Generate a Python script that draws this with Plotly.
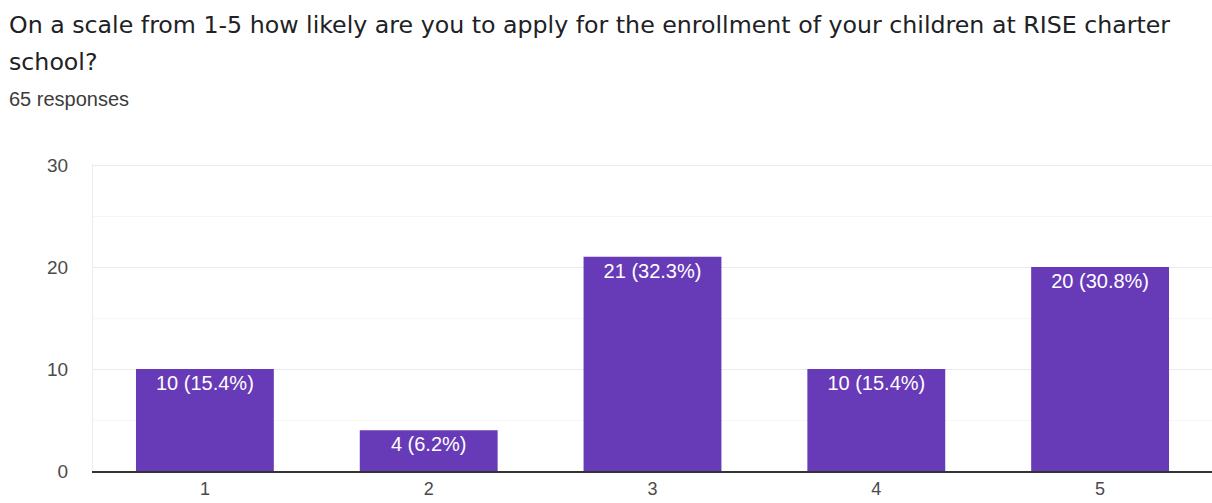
import plotly.graph_objects as go

categories = ["1", "2", "3", "4", "5"]
counts = [10, 4, 21, 10, 20]
percent_labels = ["15.4%", "6.2%", "32.3%", "15.4%", "30.8%"]
y_ticks = [0, 10, 20, 30]
title_line1 = "On a scale from 1-5 how likely are you to apply for the enrollment of your children at RISE charter"
title_line2 = "school?"
subtitle = "65 responses"

labels = [f"{c} ({p})" for c, p in zip(counts, percent_labels)]

W, H = 1212, 503
L, R, T, B = 93, 0, 164, 32
pw, ph = W - L - R, H - T - B

fig = go.Figure()
fig.add_trace(go.Bar(
    x=categories, y=counts, text=labels,
    textposition="inside", insidetextanchor="end",
    textfont=dict(family="Liberation Sans, Arial, sans-serif", size=20, color="white"),
    marker=dict(color="#673ab7", line=dict(width=0)),
    textangle=0, cliponaxis=False,
))

tickfont = dict(family="Liberation Sans, Arial, sans-serif", size=19, color="#4a4a4a")
fig.update_layout(
    width=W, height=H,
    margin=dict(l=L, r=R, t=T, b=B, autoexpand=False),
    paper_bgcolor="white", plot_bgcolor="white",
    bargap=0.384, showlegend=False,
    xaxis=dict(type="category", showgrid=False, ticks="", showline=True, automargin=False,
               linecolor="#333333", linewidth=1.5, ticklabelstandoff=1,
               tickfont=dict(family="Liberation Sans, Arial, sans-serif", size=18, color="#4a4a4a")),
    yaxis=dict(range=[0, 30.1], tickvals=y_ticks, showgrid=True, gridcolor="#ebebeb",
               gridwidth=1, zeroline=False, ticks="", ticklabelstandoff=20, automargin=False,
               showline=True, linecolor="#ececec", linewidth=1,
               tickfont=tickfont,
               minor=dict(dtick=5, showgrid=True, gridcolor="#f6f6f6", gridwidth=1)),
)

ann = []
for txt, ytop, size, col, fam in [
    (title_line1, 9, 23.7, "#202124", "DejaVu Sans, sans-serif"),
    (title_line2, 46, 23.7, "#202124", "DejaVu Sans, sans-serif"),
    (subtitle, 86, 20, "#3c3c3c", "Liberation Sans, Arial, sans-serif"),
]:
    ann.append(dict(
        text=txt, xref="paper", yref="paper",
        x=(7 - L) / pw, y=(H - B - ytop) / ph,
        xanchor="left", yanchor="top", showarrow=False,
        font=dict(family=fam, size=size, color=col),
    ))
fig.update_layout(annotations=ann)

fig.write_html("out.html", config={"displayModeBar": False},
               post_script="document.body.style.margin='0';")
